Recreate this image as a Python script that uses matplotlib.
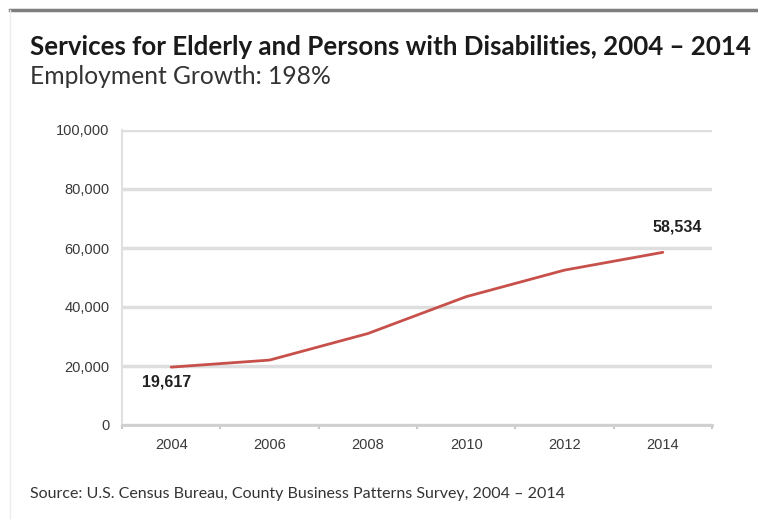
import matplotlib
matplotlib.use("Agg")
import matplotlib.pyplot as plt
from matplotlib.lines import Line2D
from matplotlib.ticker import FuncFormatter, FixedLocator

years = ["2004", "2006", "2008", "2010", "2012", "2014"]
employment = [19617, 22000, 31000, 43500, 52500, 58534]
y_ticks = [0, 20000, 40000, 60000, 80000, 100000]

title = "Services for Elderly and Persons with Disabilities, 2004 \u2013 2014"
subtitle = "Employment Growth: 198%"
source = "Source: U.S. Census Bureau, County Business Patterns Survey, 2004 \u2013 2014"

LABEL_FONT = "Liberation Sans"

W, H = 758, 529
fig = plt.figure(figsize=(W / 100, H / 100), dpi=100)
fig.patch.set_facecolor("white")

# frame lines around the graphic
fig.add_artist(Line2D([10 / W, 1], [1 - 10 / H, 1 - 10 / H], color="#7f7f7f", lw=2.5))
fig.add_artist(Line2D([10 / W, 10 / W], [1 - 10 / H, 0.02], color="#ececec", lw=1))

fig.text(30 / W, 1 - 47 / H, title, fontsize=18.6, fontweight="bold",
         family="Lato", color="#1a1a1a", va="center")
fig.text(30 / W, 1 - 76 / H, subtitle, fontsize=17.7, family="Lato",
         color="#333333", va="center")
fig.text(30 / W, 1 - 494 / H, source, fontsize=11.5, family="Lato",
         color="#333333", va="center")

ax = fig.add_axes([122 / W, 1 - 425 / H, (712 - 122) / W, (425 - 130) / H])
x = list(range(len(years)))
ax.plot(x, employment, color="#c8504b", lw=2, solid_capstyle="round")

ax.set_xlim(-0.5, len(years) - 0.5)
ax.set_ylim(0, 100000)
ax.set_yticks(y_ticks)
ax.yaxis.set_major_formatter(FuncFormatter(lambda v, p: f"{int(v):,}"))
ax.grid(axis="y", color="#dedede", lw=2.5)
ax.set_axisbelow(True)

ax.set_xticks(x)
ax.set_xticklabels(years)
ax.xaxis.set_minor_locator(FixedLocator([i - 0.5 for i in range(len(years) + 1)]))
ax.tick_params(axis="x", which="major", length=0, pad=9.5, labelsize=10.5,
               labelcolor="#3a3a3a")
ax.tick_params(axis="x", which="minor", length=3, color="#c8c8c8", width=1.5)
ax.tick_params(axis="y", length=0, pad=9, labelsize=10.5, labelcolor="#3a3a3a")
for lab in ax.get_xticklabels() + ax.get_yticklabels():
    lab.set_family(LABEL_FONT)

for s in ["top", "right"]:
    ax.spines[s].set_visible(False)
ax.spines["left"].set_color("#e0e0e0")
ax.spines["left"].set_linewidth(1.5)
ax.spines["bottom"].set_color("#cfcfcf")
ax.spines["bottom"].set_linewidth(2)

ax.annotate(f"{employment[0]:,}", (x[0], employment[0]), xytext=(-3, -5),
            textcoords="offset points", ha="center", va="top", fontsize=11.5,
            fontweight="bold", family=LABEL_FONT, color="#222222")
ax.annotate(f"{employment[-1]:,}", (x[-1], employment[-1]), xytext=(10, 13),
            textcoords="offset points", ha="center", va="bottom", fontsize=11.5,
            fontweight="bold", family=LABEL_FONT, color="#222222")

fig.savefig("out.png", dpi=100, facecolor="white")
